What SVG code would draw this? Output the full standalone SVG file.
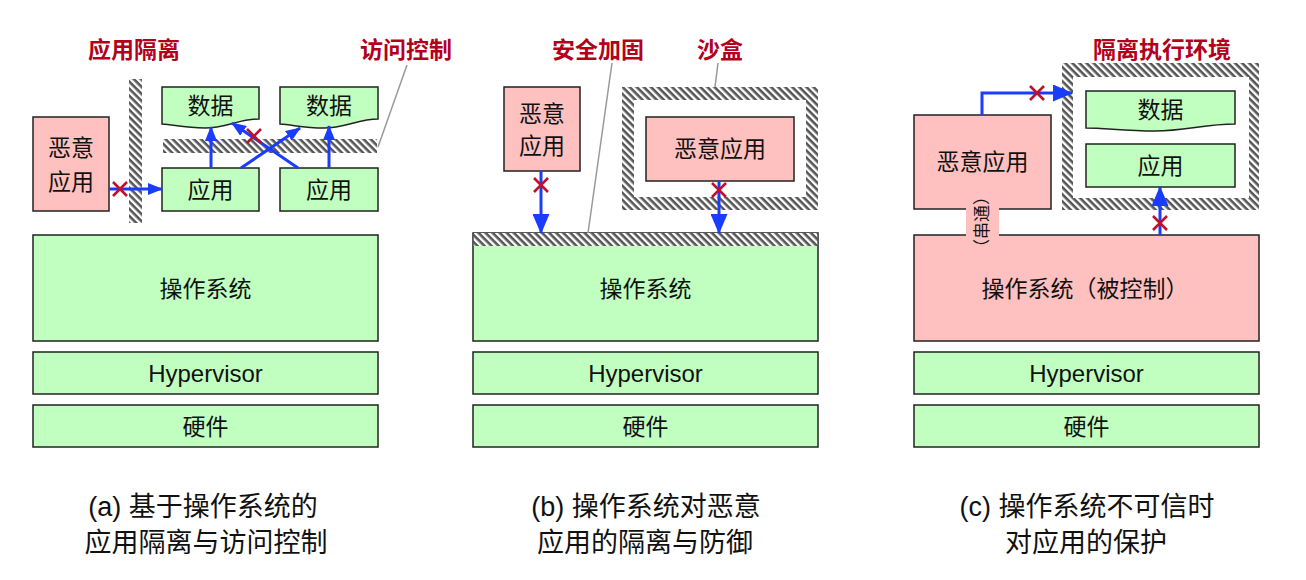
<svg xmlns="http://www.w3.org/2000/svg" width="1306" height="580" viewBox="0 0 1306 580">
<defs>
<pattern id="hatch" patternUnits="userSpaceOnUse" width="5" height="5" patternTransform="rotate(45)">
<rect width="5" height="5" fill="#ffffff"/>
<rect width="5" height="2.6" fill="#555555"/>
</pattern>
<marker id="ahS" markerUnits="userSpaceOnUse" markerWidth="15" markerHeight="12" viewBox="0 0 15 12" refX="14" refY="6" orient="auto">
<path d="M0,0 L15,6 L0,12 Z" fill="#1a3cff"/>
</marker>
<marker id="ahL" markerUnits="userSpaceOnUse" markerWidth="20" markerHeight="17" viewBox="0 0 20 17" refX="19" refY="8.5" orient="auto">
<path d="M0,0 L20,8.5 L0,17 Z" fill="#1a3cff"/>
</marker>
<g id="xmark"><path d="M-7,-7 L7,7 M7,-7 L-7,7" stroke="#c0102a" stroke-width="2.6" fill="none"/></g>
</defs>
<style>
.g{fill:#c1ffc1;stroke:#222;stroke-width:1.5}
.p{fill:#ffc0c0;stroke:#222;stroke-width:1.5}
.t{font-family:"Liberation Sans","Noto Sans CJK SC",sans-serif;font-size:23px;fill:#111;text-anchor:middle;dominant-baseline:central}
.hv{font-size:24px}
.sm{font-size:17px}
.lab{font-family:"Noto Sans CJK SC",sans-serif;font-size:23px;font-weight:bold;fill:#b3001b;text-anchor:middle;dominant-baseline:central}
.cap{font-family:"Liberation Sans","Noto Sans CJK SC",sans-serif;font-size:27px;fill:#111;text-anchor:middle;dominant-baseline:central}
.a{stroke:#1a3cff;stroke-width:3;fill:none}
.ld{stroke:#999;stroke-width:1.5;fill:none}
.h{fill:url(#hatch)}
</style>
<rect width="1306" height="580" fill="#ffffff"/>

<!-- Panel (a) -->
<g id="a-os"><rect class="g" x="33" y="235" width="345" height="106"/><text class="t" x="205.5" y="289">操作系统</text></g>
<g id="a-hv"><rect class="g" x="33" y="352" width="345" height="42"/><text class="t hv" x="205.5" y="373">Hypervisor</text></g>
<g id="a-hw"><rect class="g" x="33" y="405" width="345" height="42"/><text class="t" x="205.5" y="427">硬件</text></g>
<g id="a-mal"><rect class="p" x="33" y="117" width="76" height="94"/><text class="t" x="71" y="148">恶意</text><text class="t" x="71" y="182">应用</text></g>
<g id="a-vbar"><rect class="h" x="129" y="79" width="13" height="144"/></g>
<g id="a-hbar"><rect class="h" x="163" y="139" width="214" height="14"/></g>
<g id="a-app1"><rect class="g" x="162" y="168" width="97" height="43"/><text class="t" x="210.5" y="189.5">应用</text></g>
<g id="a-app2"><rect class="g" x="280" y="168" width="98" height="43"/><text class="t" x="329" y="189.5">应用</text></g>
<g id="a-data1"><path class="g" d="M162,87 H259 V119 C240,119 225,128 205,128 C185,128 175,125 162,124 Z"/><text class="t" x="210.5" y="106">数据</text></g>
<g id="a-data2"><path class="g" d="M280,87 H378 V119 C359,119 344,128 324,128 C304,128 294,125 280,124 Z"/><text class="t" x="329" y="106">数据</text></g>
<g id="a-lab1"><text class="lab" x="134" y="48">应用隔离</text></g>
<g id="a-lab2"><text class="lab" x="406" y="48">访问控制</text></g>

<!-- Panel (b) -->
<g id="b-os"><rect class="g" x="473" y="233" width="345" height="108"/><rect class="h" x="473.75" y="233" width="343.5" height="13"/><text class="t" x="645.5" y="289">操作系统</text></g>
<g id="b-hv"><rect class="g" x="473" y="352" width="345" height="42"/><text class="t hv" x="645.5" y="373">Hypervisor</text></g>
<g id="b-hw"><rect class="g" x="473" y="405" width="345" height="42"/><text class="t" x="645.5" y="427">硬件</text></g>
<g id="b-mal1"><rect class="p" x="504" y="87" width="76" height="84"/><text class="t" x="542" y="114">恶意</text><text class="t" x="542" y="146">应用</text></g>
<g id="b-sandbox"><path class="h" fill-rule="evenodd" d="M622,87 H818 V210 H622 Z M634,100 V197 H806 V100 Z"/></g>
<g id="b-mal2"><rect class="p" x="646" y="117" width="148" height="64"/><text class="t" x="720" y="149">恶意应用</text></g>
<g id="b-lab1"><text class="lab" x="598" y="48">安全加固</text></g>
<g id="b-lab2"><text class="lab" x="720" y="48">沙盒</text></g>

<!-- Panel (c) -->
<g id="c-os"><rect class="p" x="914" y="235" width="345" height="106"/><text class="t" x="1085" y="289">操作系统（被控制）</text></g>
<g id="c-hv"><rect class="g" x="914" y="352" width="345" height="42"/><text class="t hv" x="1086.5" y="373">Hypervisor</text></g>
<g id="c-hw"><rect class="g" x="914" y="405" width="345" height="42"/><text class="t" x="1086.5" y="427">硬件</text></g>
<g id="c-mal"><rect class="p" x="914" y="115" width="137" height="94"/><text class="t" x="982.5" y="162">恶意应用</text></g>
<g id="c-tee"><path class="h" fill-rule="evenodd" d="M1062,63 H1259 V210 H1062 Z M1073,77 V198 H1249 V77 Z"/></g>
<g id="c-data"><path class="g" d="M1086,91 H1235 V124 C1205,124 1185,131 1155,131 C1125,131 1105,128 1086,128 Z"/><text class="t" x="1160.5" y="110">数据</text></g>
<g id="c-app"><rect class="g" x="1086" y="144" width="149" height="43"/><text class="t" x="1160.5" y="165.5">应用</text></g>
<g id="c-collude"><rect x="966" y="208" width="33" height="28" fill="#ffc0c0"/><text class="t sm" x="982.5" y="222" transform="rotate(-90 982.5 222)">（串通）</text></g>
<g id="c-lab"><text class="lab" x="1162" y="48">隔离执行环境</text></g>

<!-- Connectors -->
<g id="connectors">
<line class="a" x1="109" y1="189" x2="162" y2="189" marker-end="url(#ahS)"/>
<line class="a" x1="211" y1="168" x2="211" y2="127" marker-end="url(#ahS)"/>
<line class="a" x1="329" y1="168" x2="329" y2="126" marker-end="url(#ahS)"/>
<line class="a" x1="241" y1="168" x2="300" y2="128" marker-end="url(#ahS)"/>
<line class="a" x1="298" y1="168" x2="232" y2="123" marker-end="url(#ahS)"/>
<line class="a" x1="541" y1="171" x2="541" y2="233" marker-end="url(#ahL)"/>
<line class="a" x1="719" y1="181" x2="719" y2="233" marker-end="url(#ahL)"/>
<path class="a" d="M982,115 V93 H1072" marker-end="url(#ahL)"/>
<line class="a" x1="1160" y1="235" x2="1160" y2="187" marker-end="url(#ahL)"/>
<line class="ld" x1="407" y1="65" x2="378" y2="147"/>
<line class="ld" x1="612" y1="63" x2="588" y2="233"/>
<line class="ld" x1="718" y1="63" x2="715" y2="87"/>
<use href="#xmark" x="120" y="189"/>
<use href="#xmark" x="254" y="136"/>
<use href="#xmark" x="541" y="185"/>
<use href="#xmark" x="719" y="190"/>
<use href="#xmark" x="1037" y="93"/>
<use href="#xmark" x="1160" y="223"/>
</g>

<!-- Captions -->
<g id="captions">
<text class="cap" x="203" y="507">(a) 基于操作系统的</text>
<text class="cap" x="206" y="543">应用隔离与访问控制</text>
<text class="cap" x="646" y="507">(b) 操作系统对恶意</text>
<text class="cap" x="645" y="543">应用的隔离与防御</text>
<text class="cap" x="1087" y="507">(c) 操作系统不可信时</text>
<text class="cap" x="1086" y="543">对应用的保护</text>
</g>
</svg>
